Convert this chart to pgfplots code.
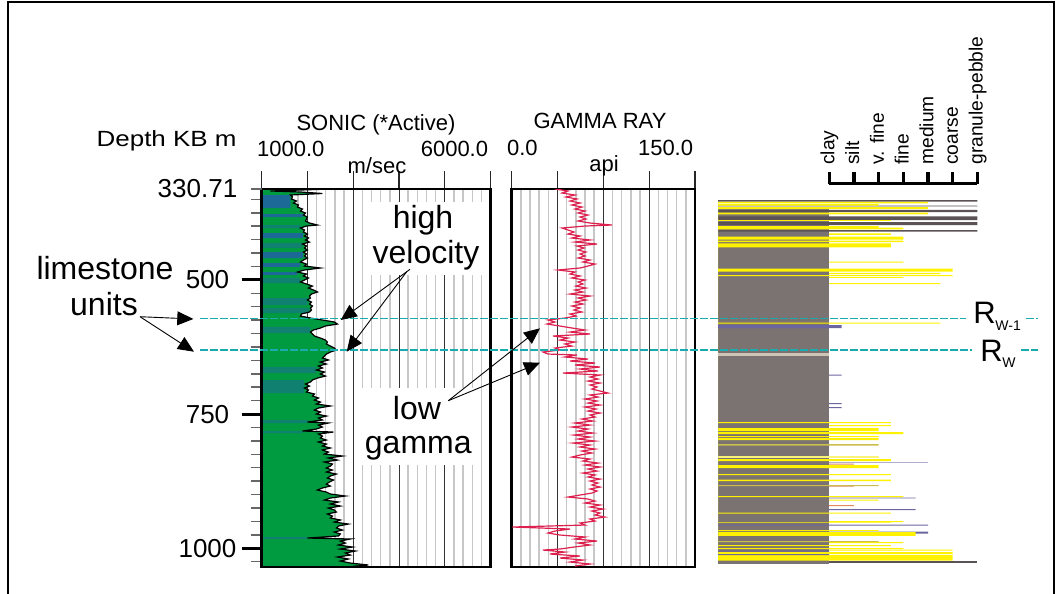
\documentclass[border=0pt]{standalone}
\usepackage{fontspec}
\setmainfont{Liberation Sans}
\usepackage{pgfplots}
\pgfplotsset{compat=1.18}
\usepackage{pgfplotstable}
\usetikzlibrary{arrows.meta}

\definecolor{sonicgreen}{RGB}{0,155,65}
\definecolor{sonicblue}{RGB}{28,104,150}
\definecolor{sonicteal}{RGB}{16,128,112}
\definecolor{grcurve}{RGB}{222,32,78}
\definecolor{shale}{RGB}{123,114,114}
\definecolor{sand}{RGB}{255,242,0}
\definecolor{lightsand}{RGB}{250,243,122}
\definecolor{olivebed}{RGB}{201,191,74}
\definecolor{darkbed}{RGB}{90,82,84}
\definecolor{purplebed}{RGB}{108,102,160}
\definecolor{lilacbed}{RGB}{176,174,205}
\definecolor{orangebed}{RGB}{224,138,90}
\definecolor{tanbed}{RGB}{207,196,181}
\definecolor{marker}{RGB}{26,171,174}

\newcommand\hdr{\fontsize{11}{11}\selectfont}
\newcommand\ann{\fontsize{16}{16}\selectfont}

% sonic velocity (m/s) against depth KB (m)
\pgfplotstableread{
v d
2503 330.71
1850 332.6
1196 334.4
1850 336.3
2329 339.1
1632 341.9
1675 345.6
1654 349.3
1763 353.1
1697 356.8
1806 360.5
1784 364.3
1893 368.0
1850 371.7
1959 375.4
1915 379.2
2002 382.9
1980 386.6
1959 390.3
2046 394.1
2220 397.8
1980 399.7
1850 403.4
1937 407.1
1915 410.8
2002 414.6
1937 418.3
2024 422.0
1959 425.7
2046 429.5
1893 433.2
1980 436.9
1937 440.6
2002 444.4
1915 448.1
1980 451.8
1937 455.5
2002 459.3
1915 463.0
1850 466.7
1980 470.5
1937 474.2
2285 477.9
1937 481.6
1784 485.4
1980 489.1
1915 492.8
2024 496.5
1937 500.3
1850 504.0
1980 507.7
2111 511.5
2024 515.2
2133 518.9
2220 522.6
2089 526.4
2046 530.1
2068 533.8
2002 537.5
2089 541.3
2046 545.0
2111 548.7
2068 552.4
2089 556.2
2046 559.9
1871 563.6
1850 567.4
2068 571.1
2329 574.8
2590 578.5
2656 582.3
2394 586.0
2285 589.7
2133 593.4
2068 597.2
2111 600.9
2155 604.6
2285 608.4
2394 612.1
2438 615.8
2416 619.5
2503 623.3
2590 627.0
2634 630.7
2503 634.4
2416 638.2
2373 641.9
2329 645.6
2460 649.3
2285 653.1
2416 656.8
2242 660.5
2329 664.2
2198 668.0
2373 671.7
2285 675.4
2394 679.2
2220 682.9
2111 686.6
2068 690.3
1959 694.1
2046 697.8
1937 701.5
2024 705.2
1980 709.0
2155 712.7
2111 716.4
2242 720.1
2155 723.9
2285 727.6
2198 731.3
2503 735.0
2242 738.8
2155 742.5
2285 746.2
2198 749.9
2416 753.7
2242 757.4
2329 761.1
2002 764.9
2460 766.7
2242 770.5
2329 774.2
2198 777.9
1893 781.6
2569 783.5
2242 787.2
2329 791.0
2285 794.7
2416 798.4
2242 802.1
2416 805.9
2329 809.6
2503 813.3
2329 817.0
2460 820.8
2373 824.5
2765 828.2
2460 831.9
2656 835.7
2373 839.4
2547 843.1
2503 846.9
2416 850.6
2547 854.3
2416 858.0
2634 861.8
2503 865.5
2438 869.2
2569 872.9
2481 876.7
2416 880.4
2503 884.1
2329 887.8
2220 891.6
2416 895.3
2503 899.0
2830 902.7
2503 906.5
2373 910.2
2678 913.9
2503 917.6
2721 921.4
2460 925.1
2590 928.8
2634 932.5
2438 936.3
2547 940.0
2503 943.7
2721 947.4
2590 951.2
2895 954.9
2678 958.6
2634 962.3
2765 966.1
2590 969.8
2721 973.5
2678 977.2
2002 981.0
2939 982.8
2721 986.6
2830 990.3
2678 994.0
2983 997.8
2721 1001.5
3048 1005.2
2830 1008.9
2939 1012.7
2656 1016.4
2895 1020.1
2721 1023.9
2939 1027.6
3331 1031.3
2830 1035.0
}\sonic

% colour bands of the sonic fill (interval tops, zero rows close them)
\pgfplotstableread{
v d
1630 341.9
0 366.1
1900 377.3
0 382.9
1900 412.7
0 422.0
1900 448.1
0 459.3
1840 468.6
0 476.0
1780 485.4
0 491.0
}\bandsblue

\pgfplotstableread{
v d
1840 397.8
0 403.4
1880 431.3
0 440.6
1840 496.5
0 505.9
2000 533.8
0 546.9
2040 552.4
0 561.8
2060 587.8
0 599.0
2190 662.4
0 673.6
1930 686.6
0 710.8
2000 761.1
0 766.7
1890 781.6
0 785.4
2000 979.1
0 982.8
}\bandsteal

% gamma ray (API) against depth KB (m)
\pgfplotstableread{
g d
35.4 330.71
46.1 334.4
41.2 338.2
51.8 341.9
44.4 345.6
53.4 349.3
47.7 353.1
55.9 356.8
49.3 360.5
57.5 364.3
51.8 368.0
60.0 371.7
54.3 375.4
62.4 379.2
55.9 382.9
60.8 386.6
54.3 390.3
64.1 394.1
82.1 397.8
60.0 399.7
41.2 403.4
46.1 407.1
51.0 410.8
46.1 414.6
55.9 418.3
49.3 422.0
64.1 425.7
51.8 429.5
69.8 433.2
53.4 436.9
59.2 440.6
54.3 444.4
60.8 448.1
55.9 451.8
60.0 455.5
54.3 459.3
64.1 463.0
58.3 466.7
68.2 470.5
62.4 474.2
55.9 477.9
37.9 481.6
51.8 485.4
47.7 489.1
55.9 492.8
49.3 496.5
60.0 500.3
54.3 504.0
58.3 507.7
52.6 511.5
60.8 515.2
51.8 518.9
58.3 522.6
47.7 526.4
64.1 530.1
54.3 533.8
60.8 537.5
51.8 541.3
58.3 545.0
49.3 548.7
55.9 552.4
51.0 556.2
57.5 559.9
47.7 563.6
52.6 567.4
43.6 571.1
29.7 574.8
35.4 578.5
28.9 582.3
39.5 586.0
49.3 589.7
60.0 593.4
47.7 597.2
64.1 600.9
33.8 604.6
46.1 608.4
39.5 612.1
51.8 615.8
43.6 619.5
49.3 623.3
35.4 627.0
39.5 630.7
25.6 634.4
29.7 638.2
53.4 640.0
43.6 643.7
62.4 647.5
47.7 651.2
68.2 654.9
51.8 658.7
72.3 662.4
55.9 666.1
70.6 669.8
42.0 673.6
72.3 677.3
64.1 681.0
70.6 684.7
62.4 688.5
72.3 692.2
64.1 695.9
69.8 699.6
65.7 703.4
72.3 707.1
78.8 710.8
64.1 714.5
70.6 718.3
60.0 722.0
69.8 725.7
62.4 729.5
72.3 733.2
60.0 736.9
69.0 740.6
62.4 744.4
72.3 748.1
64.1 751.8
68.2 755.5
57.5 759.3
66.5 763.0
51.8 766.7
64.1 770.5
49.3 774.2
62.4 777.9
54.3 781.6
66.5 785.4
51.0 789.1
64.1 792.8
54.3 796.5
68.2 800.3
50.2 804.0
64.1 807.7
55.9 811.4
68.2 815.2
57.5 818.9
65.7 822.6
55.9 826.3
49.3 830.1
64.1 833.8
58.3 837.5
70.6 841.3
60.0 845.0
72.3 848.7
62.4 852.4
69.8 856.2
58.3 859.9
68.2 863.6
62.4 867.3
72.3 871.1
64.1 874.8
70.6 878.5
65.7 882.2
72.3 886.0
64.1 889.7
69.8 893.4
65.7 897.2
55.9 900.9
46.1 904.6
62.4 908.3
68.2 912.1
60.0 915.8
72.3 919.5
64.1 923.2
74.7 927.0
65.7 930.7
72.3 934.4
68.2 938.1
76.3 941.9
64.1 945.6
68.2 949.3
55.9 953.0
60.0 956.8
0.5 960.5
47.7 964.2
35.4 968.0
29.7 971.7
39.5 975.4
60.0 979.1
51.8 982.8
69.8 986.6
54.3 990.3
64.1 994.0
51.0 997.8
39.5 1001.5
25.6 1003.4
43.6 1007.1
31.3 1010.8
55.9 1014.5
39.5 1018.3
58.3 1022.0
47.7 1025.7
64.1 1029.4
51.8 1033.2
}\gammaray

% grain-size column: bed top depth and grain class reached (4.5 = clay ... 10.5 = granule-pebble)
\pgfplotstableread{
d g
413.3 7.0
416.4 0
466.2 7.5
468.0 0
487.2 9.0
489.1 0
494.7 7.5
496.5 0
505.9 9.0
507.7 0
770.5 7.0
772.3 0
909.3 6.5
911.1 0
949.3 7.5
951.2 0
988.5 7.5
990.3 0
1002.4 9.5
1004.3 0
}\sandthin
\pgfplotstableread{
d g
676.7 5.0
678.6 0
729.5 5.0
731.3 0
736.9 5.0
738.8 0
905.6 8.0
907.0 0
927.0 8.0
928.8 0
968.9 8.5
972.6 0
}\purplethin
\pgfplotstableread{
d g
838.5 8.5
841.3 0
}\lilacthin
\pgfplotstableread{
d g
842.2 5.5
844.1 0
884.1 5.5
885.4 0
919.5 5.5
921.4 0
}\orangethin
\pgfplotstableread{
d g
1023.9 10.5
1027.6 0
}\darkthin
\pgfplotstableread{
d g
366.1 4.5
1029.4 0
}\shalecol
\pgfplotstableread{
d g
351.2 10.5
354.0 0
361.5 10.5
363.3 0
369.8 10.5
373.6 0
381.9 10.5
388.5 0
392.2 10.5
397.8 0
407.1 10.5
410.3 0
}\darkbeds
\pgfplotstableread{
d g
354.9 8.5
357.7 0
358.7 6.5
361.5 0
364.3 8.5
368.0 0
374.5 8.5
378.2 0
388.5 7.0
390.3 0
399.7 6.5
402.1 0
402.8 7.5
405.8 0
419.6 7.5
424.8 0
426.7 7.5
429.5 0
431.9 7.0
439.3 0
479.2 9.5
484.8 0
491.0 9.5
492.8 0
579.8 9.0
581.7 0
764.9 7.0
766.7 0
776.0 6.5
781.6 0
783.5 7.5
787.2 0
791.0 6.5
792.8 0
794.7 6.5
798.4 0
833.8 7.0
837.5 0
845.0 6.5
850.6 0
861.8 7.0
863.6 0
872.0 7.0
874.8 0
902.7 7.5
904.6 0
933.5 7.0
935.3 0
951.2 7.0
952.5 0
966.1 6.5
968.0 0
969.8 8.0
977.2 0
994.0 7.0
995.9 0
999.6 7.5
1001.5 0
1007.1 9.5
1010.8 0
1012.7 9.5
1023.0 0
}\sandbeds
\pgfplotstableread{
d g
827.3 6.5
831.0 0
}\lightsandbeds
\pgfplotstableread{
d g
805.9 6.5
808.7 0
882.2 6.5
884.1 0
986.6 6.5
988.5 0
}\olivebeds
\pgfplotstableread{
d g
584.1 5.0
589.7 0
955.8 8.5
957.7 0
1004.3 4.5
1006.2 0
1010.8 4.5
1012.7 0
}\purplebeds
\pgfplotstableread{
d g
636.3 4.5
641.9 0
}\tanbeds

\pgfplotsset{
  depthtrack/.style={scale only axis, anchor=north west, height=189pt,
    ymin=330.71, ymax=1035, y dir=reverse},
  logtrack/.style={depthtrack, ytick=\empty, xticklabels={}, xtick pos=right,
    tick align=outside, major tick length=9pt, minor tick length=0pt,
    minor x tick num=4, xmajorgrids, xminorgrids,
    major x grid style={black!80, line width=0.5pt},
    minor x grid style={black!22, line width=0.8pt},
    major tick style={black!85, line width=0.6pt}},
}

\begin{document}
\begin{tikzpicture}
\begin{scope}[x=0.5pt,y=-0.5pt]
\path[use as bounding box] (0,0) rectangle (1060,594);
\draw[line width=1pt] (8,2) rectangle (1054,600);
\end{scope}

% sonic track: grid, fill and curve
\begin{axis}[logtrack, at={(130.75pt,-94.5pt)}, width=114.6pt,
  xmin=1000, xmax=6000, xtick={1000,2000,...,6000},
  axis line style={draw=none}]
\addplot[draw=none, fill=sonicgreen] table[x=v, y=d] {\sonic}
  -- (axis cs:1000,1035) -- (axis cs:1000,330.71) -- cycle;
\addplot[xbar interval, draw=none, fill=sonicblue] table[x=v, y=d] {\bandsblue};
\addplot[xbar interval, draw=none, fill=sonicteal] table[x=v, y=d] {\bandsteal};
\addplot[black, line width=0.6pt] table[x=v, y=d] {\sonic};
\end{axis}

% sonic track frame and depth scale
\begin{axis}[depthtrack, at={(130.75pt,-94.5pt)}, width=114.6pt,
  xmin=1000, xmax=6000, xtick=\empty,
  axis line style={line width=1.4pt},
  ytick={500,750,1000}, ytick pos=left, tick align=outside,
  minor ytick={350,375,400,425,450,475,525,550,575,600,625,650,675,700,725,775,800,825,850,875,900,925,950,975,1025},
  major tick length=10pt, minor tick length=5.5pt,
  major tick style={line width=1.5pt, black},
  minor tick style={line width=0.75pt, black!60},
  yticklabel style={font=\fontsize{13}{13}\selectfont, anchor=center, inner sep=0pt, xshift=-17pt},
  /pgf/number format/assume math mode=true, /pgf/number format/1000 sep={},
  extra y ticks={330.71}, extra y tick labels={330.71},
  extra y tick style={major tick length=5.5pt,
    major tick style={line width=0.75pt, black!60},
    yticklabel style={xshift=-9.5pt}}]
\end{axis}

% gamma ray track
\begin{axis}[logtrack, at={(255.85pt,-94.5pt)}, width=91.65pt,
  xmin=0, xmax=150, xtick={0,37.5,75,112.5,150},
  axis line style={line width=1.4pt}]
\addplot[grcurve, line width=0.6pt] table[x=g, y=d] {\gammaray};
\end{axis}

% lithology and grain-size column
\begin{axis}[depthtrack, at={(359pt,-94.5pt)}, width=129.7pt,
  xmin=0, xmax=10.5, hide axis]
\addplot[xbar interval, draw=none, fill=sand] table[x=g, y=d] {\sandthin};
\addplot[xbar interval, draw=none, fill=purplebed] table[x=g, y=d] {\purplethin};
\addplot[xbar interval, draw=none, fill=lilacbed] table[x=g, y=d] {\lilacthin};
\addplot[xbar interval, draw=none, fill=orangebed] table[x=g, y=d] {\orangethin};
\addplot[xbar interval, draw=none, fill=darkbed] table[x=g, y=d] {\darkthin};
\addplot[xbar interval, draw=none, fill=shale] table[x=g, y=d] {\shalecol};
\addplot[xbar interval, draw=none, fill=darkbed] table[x=g, y=d] {\darkbeds};
\addplot[xbar interval, draw=none, fill=sand] table[x=g, y=d] {\sandbeds};
\addplot[xbar interval, draw=none, fill=lightsand] table[x=g, y=d] {\lightsandbeds};
\addplot[xbar interval, draw=none, fill=olivebed] table[x=g, y=d] {\olivebeds};
\addplot[xbar interval, draw=none, fill=purplebed] table[x=g, y=d] {\purplebeds};
\addplot[xbar interval, draw=none, fill=tanbed] table[x=g, y=d] {\tanbeds};
\end{axis}

\begin{scope}[x=0.5pt,y=-0.5pt, every node/.style={inner sep=0pt}]
% headers
\node[anchor=base east, font=\hdr] at (237,146) {\scalebox{1.18}[1]{Depth KB m}};
\node[anchor=base, font=\hdr] at (376,130) {SONIC (*Active)};
\node[anchor=base west, font=\hdr] at (256.7,156.7) {1000.0};
\node[anchor=base east, font=\hdr] at (488.5,156.7) {6000.0};
\node[anchor=base, font=\hdr] at (377,173) {m/sec};
\node[anchor=base, font=\hdr] at (600,128.3) {GAMMA RAY};
\node[anchor=base west, font=\hdr] at (506.7,155) {0.0};
\node[anchor=base east, font=\hdr] at (693.5,155) {150.0};
\node[anchor=base, font=\hdr] at (604,171.7) {api};

% grain-size scale
\draw[line width=1.6pt] (829.2,183.3) -- (977.4,183.3);
\foreach \gx/\gl in {829.2/clay, 853.9/silt, 878.6/v. fine, 903.3/fine,
    928.0/medium, 952.7/coarse, 977.4/granule-pebble} {
  \draw[line width=1.6pt] (\gx,184) -- (\gx,171.7);
  \node[rotate=90, anchor=mid west, font=\fontsize{9.6}{9.6}\selectfont] at (\gx,165) {\gl};
}

% limestone markers
\draw[marker, line width=0.6pt, dash pattern=on 4pt off 1pt] (200,318.5) -- (966,318.5) (1026,318.5) -- (1038,318.5);
\draw[marker, line width=0.6pt, dash pattern=on 4pt off 1pt] (200,350) -- (972,350) (1021,350) -- (1038,350);
\node[anchor=base west, font=\fontsize{15.5}{15.5}\selectfont] at (973,323.3) {R};
\node[anchor=base west, font=\fontsize{7}{7}\selectfont] at (995,330) {W-1};
\node[anchor=base west, font=\fontsize{15.5}{15.5}\selectfont] at (980,361.7) {R};
\node[anchor=base west, font=\fontsize{7}{7}\selectfont] at (1002,367) {W};

% annotations
\node[anchor=base, font=\ann] at (105,279.3) {limestone};
\node[anchor=base, font=\ann] at (104,315) {units};
\fill[white] (370,201.7) rectangle (483,275);
\node[anchor=base, font=\ann] at (423,228.3) {high};
\node[anchor=base, font=\ann] at (426,263.3) {velocity};
\fill[white] (360,388) rectangle (476.7,465);
\node[anchor=base, font=\ann] at (417,419.3) {low};
\node[anchor=base, font=\ann] at (418.3,453.3) {gamma};

\begin{scope}[line width=0.45pt, -{Triangle[length=8pt,width=7pt]}]
\draw (140,316.7) -- (193.3,319);
\draw (140,316.7) -- (194,351.7);
\draw (410,269.3) -- (340.7,320);
\draw (406.7,271.7) -- (346.7,351.7);
\draw (448.3,400.7) -- (540,328.3);
\draw (448.3,400.7) -- (540,362.7);
\end{scope}
\end{scope}
\end{tikzpicture}
\end{document}
